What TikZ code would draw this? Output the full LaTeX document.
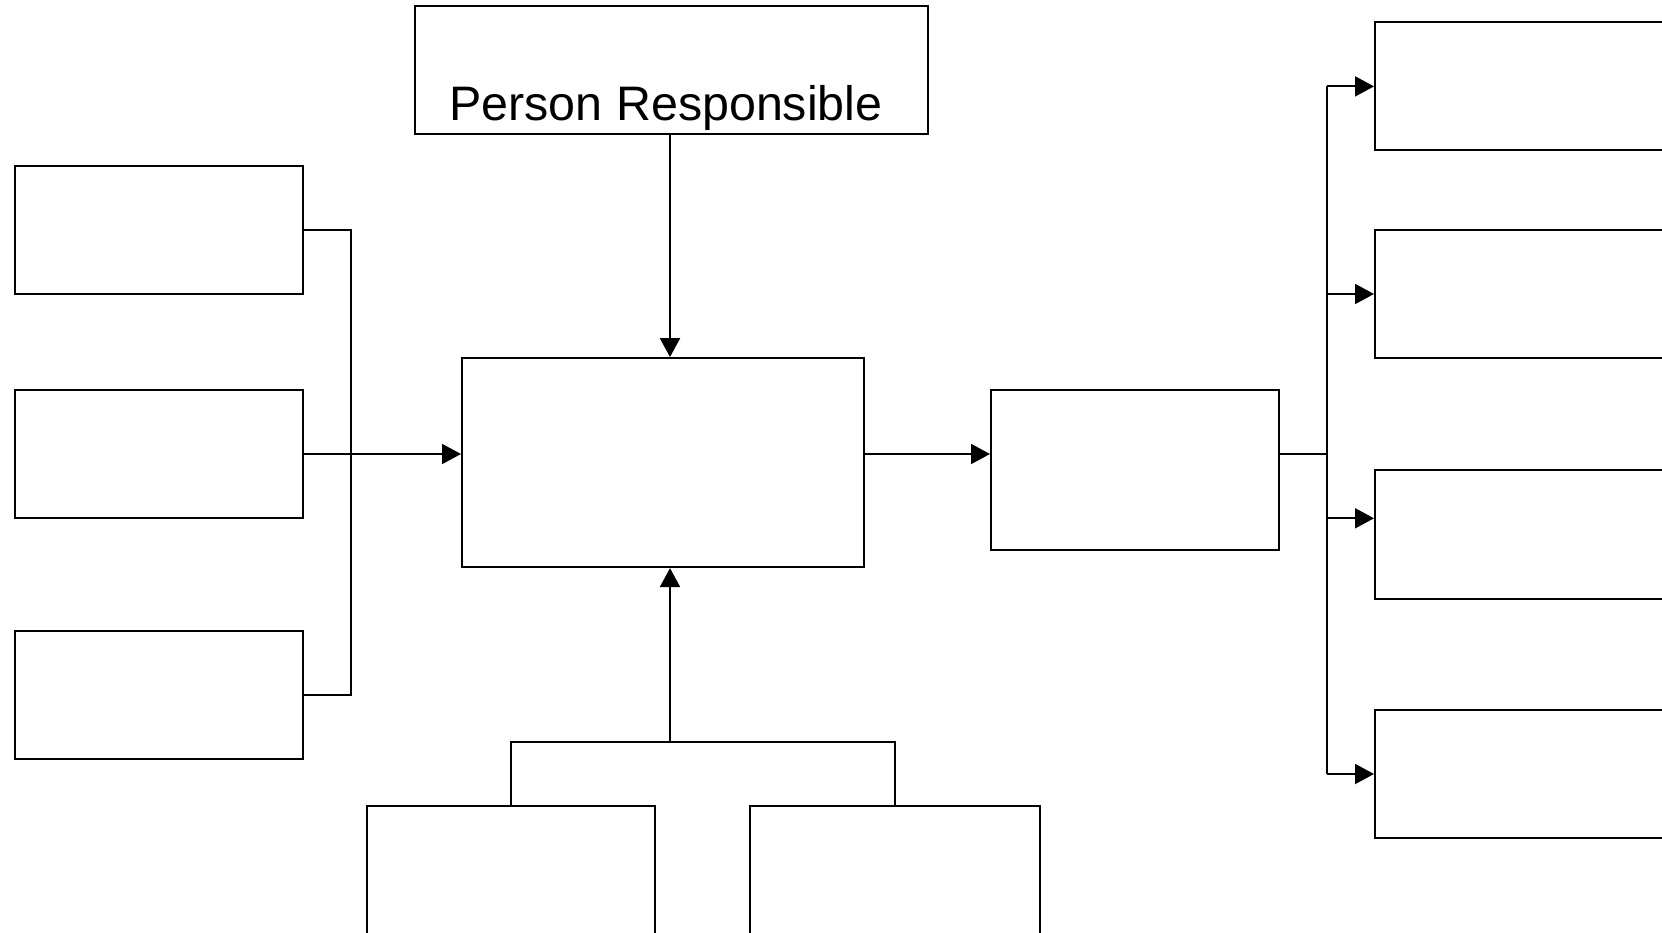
\documentclass[tikz,border=0pt]{standalone}
\usepackage{fontspec}
\setmainfont{Liberation Sans}
\usetikzlibrary{arrows.meta}
\begin{document}
\begin{tikzpicture}[x=1pt,y=-1pt,
  box/.style={draw=black,line width=2pt,fill=white,inner sep=0pt},
  link/.style={draw=black,line width=2pt},
  arr/.style={link,-{Triangle[length=19pt,width=20pt]}}]
\useasboundingbox (0,0) rectangle (1662,933);
\clip (0,0) rectangle (1662,933);
% top box
\node[box,minimum width=513pt,minimum height=128pt] (top) at (671,70.5) {};
\node[anchor=base,inner sep=0pt,font=\fontsize{48.4}{58}\selectfont] (toplabel) at (666,120.5) {Person Responsible};
% left inputs
\node[box,minimum width=288pt,minimum height=128pt] (L1) at (159,230.5) {};
\node[box,minimum width=288pt,minimum height=128pt] (L2) at (159,454) {};
\node[box,minimum width=288pt,minimum height=128pt] (L3) at (159,695) {};
% central process
\node[box,minimum width=402pt,minimum height=209pt] (C) at (663,462.6) {};
% output
\node[box,minimum width=288pt,minimum height=160pt] (M) at (1135,470) {};
% right outcomes
\node[box,minimum width=325pt,minimum height=128pt] (RA) at (1537.5,86.4) {};
\node[box,minimum width=325pt,minimum height=128pt] (RB) at (1537.5,294) {};
\node[box,minimum width=325pt,minimum height=129pt] (RC) at (1537.5,534.3) {};
\node[box,minimum width=325pt,minimum height=128pt] (RD) at (1537.5,774) {};
% bottom resources
\node[box,minimum width=288pt,minimum height=200pt] (BL) at (511,905.6) {};
\node[box,minimum width=290pt,minimum height=200pt] (BR) at (895,905.6) {};
% bus coordinates
\coordinate (lbus) at (351,454);
\coordinate (rbus) at (1327,454);
\coordinate (bj) at (670,742);
% connectors
\draw[arr] (top.south -| bj) -- (C.north -| bj);
\draw[link] (L1.east) -| (lbus |- L3.east) -- (L3.east);
\draw[arr] (L2.east) -- (C.west |- L2.east);
\draw[arr] (C.east |- L2.east) -- (M.west |- L2.east);
\draw[link] (M.east |- L2.east) -- (rbus);
\draw[link] (rbus |- RA.west) -- (rbus |- RD.west);
\draw[arr] (rbus |- RA.west) -- (RA.west);
\draw[arr] (rbus |- RB.west) -- (RB.west);
\draw[arr] (rbus |- 0,518.3) -- (RC.west |- 0,518.3);
\draw[arr] (rbus |- RD.west) -- (RD.west);
\draw[link] (BL.north) -- (BL.north |- bj) -- (BR.north |- bj) -- (BR.north);
\draw[arr] (bj) -- (C.south -| bj);
\end{tikzpicture}
\end{document}
